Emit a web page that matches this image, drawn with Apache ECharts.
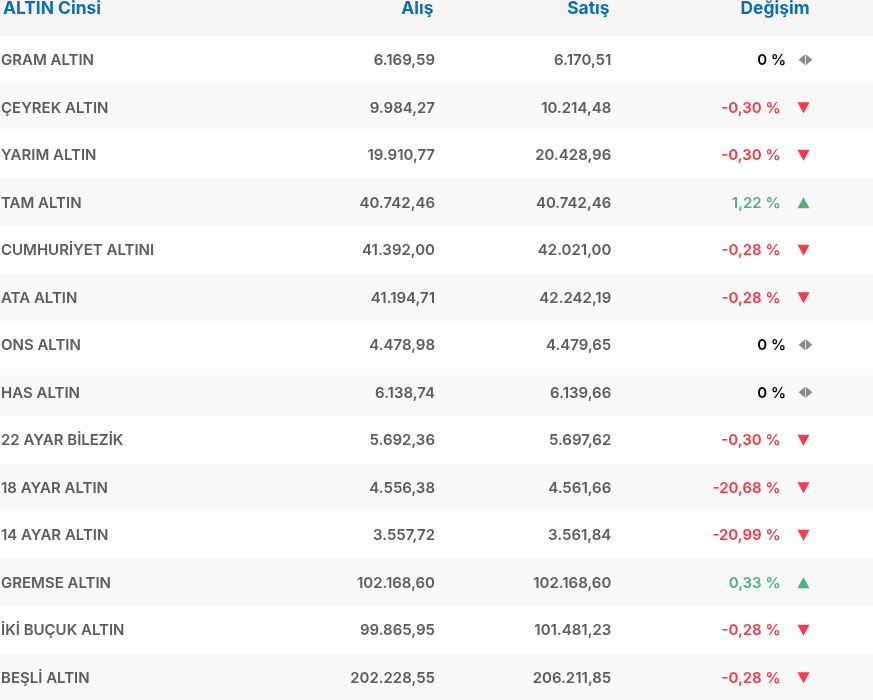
<!DOCTYPE html>
<html><head><meta charset="utf-8">
<style>html,body{margin:0;padding:0;background:#fff}#c{width:873px;height:700px}</style>
<script src="https://cdn.jsdelivr.net/npm/echarts@6/dist/echarts.min.js"></script>
</head><body><div id="c"></div>
<script>
const headers = ['ALTIN Cinsi', 'Alış', 'Satış', 'Değişim'];
const names = ['GRAM ALTIN','ÇEYREK ALTIN','YARIM ALTIN','TAM ALTIN','CUMHURİYET ALTINI','ATA ALTIN','ONS ALTIN','HAS ALTIN','22 AYAR BİLEZİK','18 AYAR ALTIN','14 AYAR ALTIN','GREMSE ALTIN','İKİ BUÇUK ALTIN','BEŞLİ ALTIN'];
const buy = ['6.169,59','9.984,27','19.910,77','40.742,46','41.392,00','41.194,71','4.478,98','6.138,74','5.692,36','4.556,38','3.557,72','102.168,60','99.865,95','202.228,55'];
const sell = ['6.170,51','10.214,48','20.428,96','40.742,46','42.021,00','42.242,19','4.479,65','6.139,66','5.697,62','4.561,66','3.561,84','102.168,60','101.481,23','206.211,85'];
const change = ['0','-0,30','-0,30','1,22','-0,28','-0,28','0','0','-0,30','-20,68','-20,99','0,33','-0,28','-0,28'];

const RED='#fb3748', GREEN='#4db27d', FLAT='#000000', ICON='#8a8a8a', INK='#5c5c5c', BLUE='#0b6fb8';
const FONT='Inter';
const rowIdx = [0].concat(names.map((_,k)=>k+1));
const dirOf = s => s==='0' ? 0 : (s[0]==='-' ? -1 : 1);

function renderRow(params, api){
  const i = api.value(0);
  const p = x => api.coord([x, i]);
  const band = api.size([0,1])[1];
  const cy = p(0)[1];
  const kids = [];
  const bg = i===0 ? '#f5f5f5' : (i%2===0 ? '#f9f9f9' : '#ffffff');
  kids.push({type:'rect', shape:{x:0, y:cy-band/2, width:873, height:band}, style:{fill:bg}});
  const txt = (x, t, align, color, size, weight, dy) => kids.push({type:'text', style:{
    x:p(x)[0], y:cy+(dy||0), text:t, align:align, verticalAlign:'middle',
    fill:color, font:`${weight} ${size}px ${FONT}`}});
  if(i===0){
    txt(3, headers[0], 'left', BLUE, 17.4, 700, -3.5);
    txt(433.5, headers[1], 'right', BLUE, 17.4, 700, -3.5);
    txt(609.5, headers[2], 'right', BLUE, 17.4, 700, -3.5);
    txt(809.5, headers[3], 'right', BLUE, 17.4, 700, -3.5);
  } else {
    const k=i-1, d=dirOf(change[k]);
    txt(1, names[k], 'left', INK, 15, 600, 0.8);
    txt(435, buy[k], 'right', INK, 15, 600, 0.8);
    txt(611.3, sell[k], 'right', INK, 15, 600, 0.8);
    txt(d===0?786:780.5, change[k]+' %', 'right', d===0?FLAT:(d<0?RED:GREEN), 15, 600, 0.8);
  }
  return {type:'group', children:kids};
}

const iconX = 803.5, flatX = 805.5;
const up=[], down=[], flat=[];
change.forEach((c,k)=>{const d=dirOf(c); if(d>0)up.push([iconX,k+1]); else if(d<0)down.push([iconX,k+1]); else flat.push([flatX,k+1]);});
const tri = (data,color,size,rot,off)=>({type:'scatter',data,symbol:'triangle',symbolSize:size,symbolRotate:rot,symbolOffset:off||[0,0],
  itemStyle:{color,opacity:1},silent:true,z:5});

const chart = echarts.init(document.getElementById('c'),null,{renderer:'canvas'});
chart.setOption({
  animation:false,
  grid:{left:0,top:0,right:0,bottom:0},
  xAxis:{type:'value',min:0,max:873,show:false},
  yAxis:{type:'value',inverse:true,min:-0.2579,max:14.4789,show:false},
  series:[
    {type:'custom',coordinateSystem:'cartesian2d',data:rowIdx.map(i=>[i]),encode:{y:0},renderItem:renderRow,silent:true,z:1},
    tri(up,GREEN,[12,11],0,[0,0.5]),
    tri(down,RED,[12,11],180,[0,0.5]),
    tri(flat,ICON,[11,6.5],90,[-3.6,0]),
    tri(flat,ICON,[11,6.5],-90,[3.6,0])
  ]
});
</script></body></html>
